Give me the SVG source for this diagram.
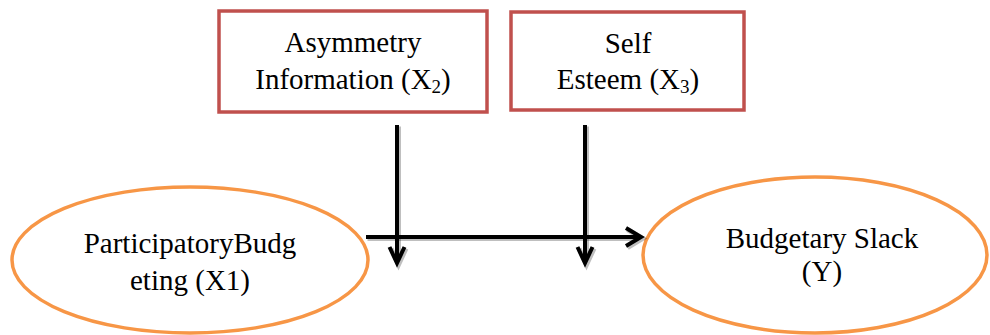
<svg xmlns="http://www.w3.org/2000/svg" width="990" height="335" viewBox="0 0 990 335">
<style>
.box{fill:#fff;stroke:#c0504d;stroke-width:3.5}
.ell{fill:#fff;stroke:#f79646;stroke-width:3.5}
text{font-family:'Liberation Serif','Tinos','Times New Roman','DejaVu Serif',serif;font-size:29px;fill:#000;text-anchor:middle}
.sub{font-size:19px}
.ln{fill:none;stroke:#000;stroke-width:4;stroke-linecap:butt;stroke-linejoin:miter}
.sh{fill:none;stroke:#000;stroke-opacity:0.25;stroke-width:5}
</style>
<rect width="990" height="335" fill="#fff"/>
<g id="node-asymmetry">
<rect class="box" x="219" y="11" width="268" height="101"/>
<text font-family="Liberation Serif, serif" x="353" y="52">Asymmetry</text>
<text font-family="Liberation Serif, serif" x="353" y="89">Information (X<tspan class="sub" dy="4">2</tspan><tspan dy="-4">)</tspan></text>
</g>
<g id="node-selfesteem">
<rect class="box" x="511" y="12" width="233" height="98"/>
<text font-family="Liberation Serif, serif" x="628" y="53">Self</text>
<text font-family="Liberation Serif, serif" x="628" y="89">Esteem (X<tspan class="sub" dy="4">3</tspan><tspan dy="-4">)</tspan></text>
</g>
<g id="node-participatory">
<ellipse class="ell" cx="190" cy="260" rx="178" ry="73"/>
<text font-family="Liberation Serif, serif" x="190" y="253">ParticipatoryBudg</text>
<text font-family="Liberation Serif, serif" x="190" y="290">eting (X1)</text>
</g>
<g id="node-slack">
<ellipse class="ell" cx="815" cy="255" rx="172" ry="78"/>
<text font-family="Liberation Serif, serif" x="822" y="248">Budgetary Slack</text>
<text font-family="Liberation Serif, serif" x="822" y="281">(Y)</text>
</g>
<g id="connectors">
<g transform="translate(1.5,1.5)">
<path class="sh" d="M397 125 V263 M389.5 247 L397 263 L404.5 247"/>
<path class="sh" d="M585 125 V263 M577.5 247 L585 263 L592.5 247"/>
<path class="sh" d="M366 237 H641 M626 228 L641 237 L626 246"/>
</g>
<path class="ln" d="M397 125 V263 M389.5 247 L397 263 L404.5 247"/>
<path class="ln" d="M585 125 V263 M577.5 247 L585 263 L592.5 247"/>
<path class="ln" d="M366 237 H641 M626 228 L641 237 L626 246"/>
</g>
</svg>
